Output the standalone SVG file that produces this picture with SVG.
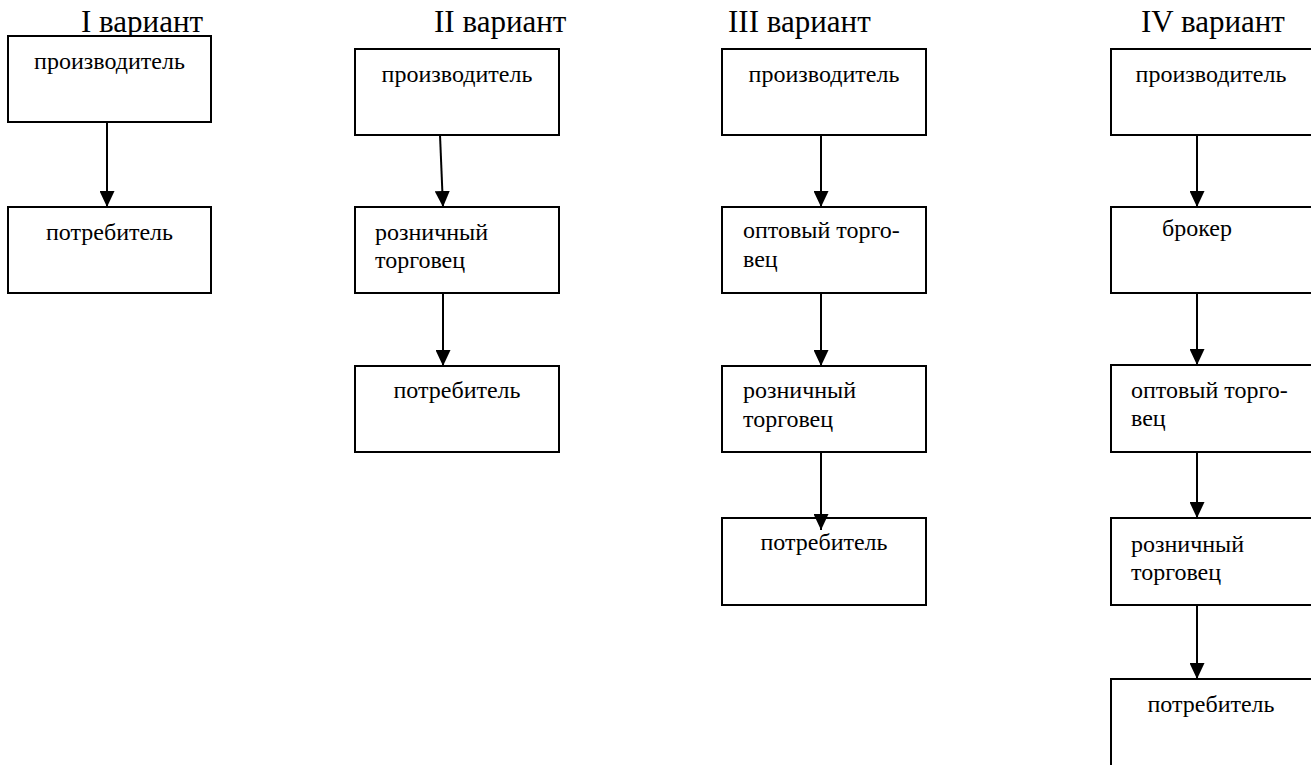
<svg xmlns="http://www.w3.org/2000/svg" width="1311" height="765" viewBox="0 0 1311 765">
  <style>
    .box { fill: #fff; stroke: #000; stroke-width: 2; }
    .t { font-family: "Liberation Serif", "Times New Roman", serif; font-size: 24px; fill: #000; }
    .c { text-anchor: middle; }
    .title { font-family: "Liberation Serif", "Times New Roman", serif; font-size: 31px; fill: #000; }
    .link { stroke: #000; stroke-width: 2; fill: none; marker-end: url(#arrow); }
  </style>
  <defs>
    <marker id="arrow" markerUnits="userSpaceOnUse" viewBox="0 0 16 15" refX="16" refY="7.5" markerWidth="16" markerHeight="15" orient="auto">
      <path d="M0,0 L16,7.5 L0,15 Z" fill="#000"/>
    </marker>
  </defs>
  <rect width="1311" height="765" fill="#fff"/>

  <!-- column headings -->
  <g id="titles">
    <text class="title" x="81" y="32">I вариант</text>
    <text class="title" x="434" y="32">II вариант</text>
    <text class="title" x="728" y="32">III вариант</text>
    <text class="title" x="1141" y="32">IV вариант</text>
  </g>

  <!-- variant I -->
  <g id="v1-producer"><rect class="box" x="8" y="36" width="203" height="86"/><text class="t c" x="109.5" y="69">производитель</text></g>
  <g id="v1-consumer"><rect class="box" x="8" y="207" width="203" height="86"/><text class="t c" x="109.5" y="240">потребитель</text></g>

  <!-- variant II -->
  <g id="v2-producer"><rect class="box" x="355" y="49" width="204" height="86"/><text class="t c" x="457" y="82">производитель</text></g>
  <g id="v2-retailer"><rect class="box" x="355" y="207" width="204" height="86"/><text class="t" x="375" y="240">розничный</text><text class="t" x="375" y="268">торговец</text></g>
  <g id="v2-consumer"><rect class="box" x="355" y="366" width="204" height="86"/><text class="t c" x="457" y="398">потребитель</text></g>

  <!-- variant III -->
  <g id="v3-producer"><rect class="box" x="722" y="49" width="204" height="86"/><text class="t c" x="824" y="82">производитель</text></g>
  <g id="v3-wholesaler"><rect class="box" x="722" y="207" width="204" height="86"/><text class="t" x="743" y="238">оптовый торго-</text><text class="t" x="743" y="267">вец</text></g>
  <g id="v3-retailer"><rect class="box" x="722" y="366" width="204" height="86"/><text class="t" x="743" y="398">розничный</text><text class="t" x="743" y="427">торговец</text></g>
  <g id="v3-consumer"><rect class="box" x="722" y="518" width="204" height="87"/><text class="t c" x="824" y="550">потребитель</text></g>

  <!-- variant IV -->
  <g id="v4-producer"><rect class="box" x="1111" y="49" width="204" height="86"/><text class="t c" x="1211" y="82">производитель</text></g>
  <g id="v4-broker"><rect class="box" x="1111" y="207" width="204" height="86"/><text class="t c" x="1197" y="236">брокер</text></g>
  <g id="v4-wholesaler"><rect class="box" x="1111" y="365" width="204" height="87"/><text class="t" x="1131" y="398">оптовый торго-</text><text class="t" x="1131" y="426">вец</text></g>
  <g id="v4-retailer"><rect class="box" x="1111" y="518" width="204" height="87"/><text class="t" x="1131" y="552">розничный</text><text class="t" x="1131" y="580">торговец</text></g>
  <g id="v4-consumer"><rect class="box" x="1111" y="679" width="204" height="100"/><text class="t c" x="1211" y="712">потребитель</text></g>

  <!-- connectors, drawn over the boxes so arrowheads stay visible -->
  <g id="connectors">
    <line class="link" x1="107" y1="122" x2="107" y2="207"/>

    <line class="link" x1="440" y1="135" x2="443" y2="207"/>
    <line class="link" x1="443" y1="293" x2="443" y2="366"/>

    <line class="link" x1="821" y1="135" x2="821" y2="207"/>
    <line class="link" x1="821" y1="293" x2="821" y2="366"/>
    <line class="link" x1="821" y1="452" x2="821" y2="530"/>

    <line class="link" x1="1197" y1="135" x2="1197" y2="207"/>
    <line class="link" x1="1197" y1="293" x2="1197" y2="365"/>
    <line class="link" x1="1197" y1="452" x2="1197" y2="518"/>
    <line class="link" x1="1197" y1="605" x2="1197" y2="679"/>
  </g>
</svg>
